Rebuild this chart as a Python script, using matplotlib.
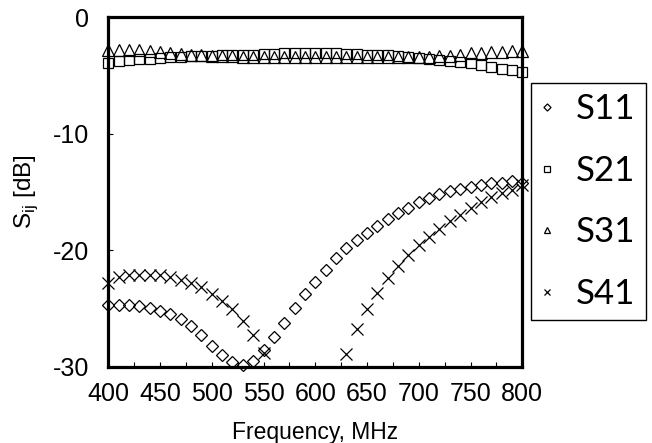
import numpy as np
import matplotlib
matplotlib.use("Agg")
import matplotlib.pyplot as plt
from matplotlib.ticker import MultipleLocator

plt.rcParams["font.family"] = ["Liberation Sans", "DejaVu Sans"]
plt.rcParams["mathtext.fontset"] = "custom"
plt.rcParams["mathtext.rm"] = "Liberation Sans"
plt.rcParams["axes.unicode_minus"] = False

# ---- data ----
freq = np.arange(400, 801, 10)

s11 = [-24.7, -24.7, -24.7, -24.8, -24.95, -25.2, -25.5, -25.9, -26.5, -27.3,
       -28.2, -29.0, -29.6, -29.9, -29.5, -28.6, -27.5, -26.3, -25.0, -23.8,
       -22.7, -21.7, -20.7, -19.8, -19.1, -18.5, -17.9, -17.3, -16.8, -16.4,
       -15.9, -15.5, -15.2, -14.95, -14.75, -14.6, -14.4, -14.25, -14.2, -14.1,
       -14.2]

s21 = [-3.9, -3.75, -3.65, -3.6, -3.55, -3.5, -3.45, -3.4, -3.35, -3.3,
       -3.3, -3.25, -3.25, -3.2, -3.2, -3.15, -3.15, -3.1, -3.1, -3.1,
       -3.1, -3.1, -3.1, -3.15, -3.15, -3.2, -3.2, -3.25, -3.3, -3.4,
       -3.5, -3.55, -3.65, -3.75, -3.85, -3.95, -4.1, -4.25, -4.4, -4.5,
       -4.7]

s31 = [-2.8, -2.8, -2.8, -2.85, -2.9, -3.0, -3.1, -3.15, -3.2, -3.25,
       -3.3, -3.35, -3.35, -3.4, -3.4, -3.4, -3.4, -3.4, -3.4, -3.4,
       -3.4, -3.4, -3.4, -3.4, -3.4, -3.4, -3.4, -3.4, -3.4, -3.4,
       -3.4, -3.4, -3.35, -3.3, -3.2, -3.1, -3.05, -3.0, -2.95, -2.9,
       -2.9]

s41 = [-22.8, -22.35, -22.15, -22.1, -22.1, -22.15, -22.3, -22.55, -22.85, -23.2,
       -23.75, -24.35, -25.1, -26.1, -27.3, -28.85, np.nan, np.nan, np.nan, np.nan,
       np.nan, np.nan, np.nan, -28.9, -26.8, -25.1, -23.7, -22.4, -21.4, -20.4,
       -19.55, -18.85, -18.15, -17.5, -17.0, -16.4, -15.9, -15.45, -15.1, -14.8,
       -14.4]

labels = ["S11", "S21", "S31", "S41"]
x_ticks = [400, 450, 500, 550, 600, 650, 700, 750, 800]
y_ticks = [-30, -20, -10, 0]

# ---- figure ----
W, H = 652, 443
fig = plt.figure(figsize=(W / 100, H / 100), dpi=100)
L, R, T, B = 108.3, 522.3, 17.3, 366.5
ax = fig.add_axes([L / W, 1 - B / H, (R - L) / W, (B - T) / H])

common = dict(ls="none", mfc="none", mec="black", mew=0.9, clip_on=False)
ax.plot(freq, s11, marker="D", ms=6.0, label=labels[0], **common)
ax.plot(freq, s21, marker="s", ms=6.5, label=labels[1], **common)
ax.plot(freq, s31, marker="^", ms=8.0, label=labels[2], **common)
ax.plot(freq, s41, marker="x", ms=8.0, label=labels[3], **common)

ax.set_xlim(400, 800)
ax.set_ylim(-30, 0)
ax.set_xticks(x_ticks)
ax.set_yticks(y_ticks)
ax.xaxis.set_minor_locator(MultipleLocator(25))

for sp in ax.spines.values():
    sp.set_linewidth(2.3)
    sp.set_color("black")

ax.tick_params(axis="both", which="both", direction="in", length=3.6, width=0.8,
               top=False, right=False, labelsize=18)
ax.tick_params(axis="x", which="major", pad=11)
ax.tick_params(axis="y", which="major", pad=14)

ax.set_xlabel("Frequency, MHz", fontsize=16.5)
ax.xaxis.set_label_coords(0.5, -0.155)
ax.set_ylabel(r"S$_{\mathregular{ij}}$ [dB]", fontsize=17.5)
ax.yaxis.set_label_coords(-0.165, 0.5)

leg = fig.legend(loc="upper left", bbox_to_anchor=(531 / W, 1 - 83 / H),
                 bbox_transform=fig.transFigure, frameon=True, fancybox=False,
                 edgecolor="black", framealpha=1, markerscale=0.6,
                 prop={"family": ["Lato", "DejaVu Sans"], "size": 25},
                 handlelength=0.3, handletextpad=0.7, labelspacing=0.85,
                 borderpad=0.3, borderaxespad=0)
leg.get_frame().set_linewidth(1.0)

fig.savefig("out.png", dpi=100)
